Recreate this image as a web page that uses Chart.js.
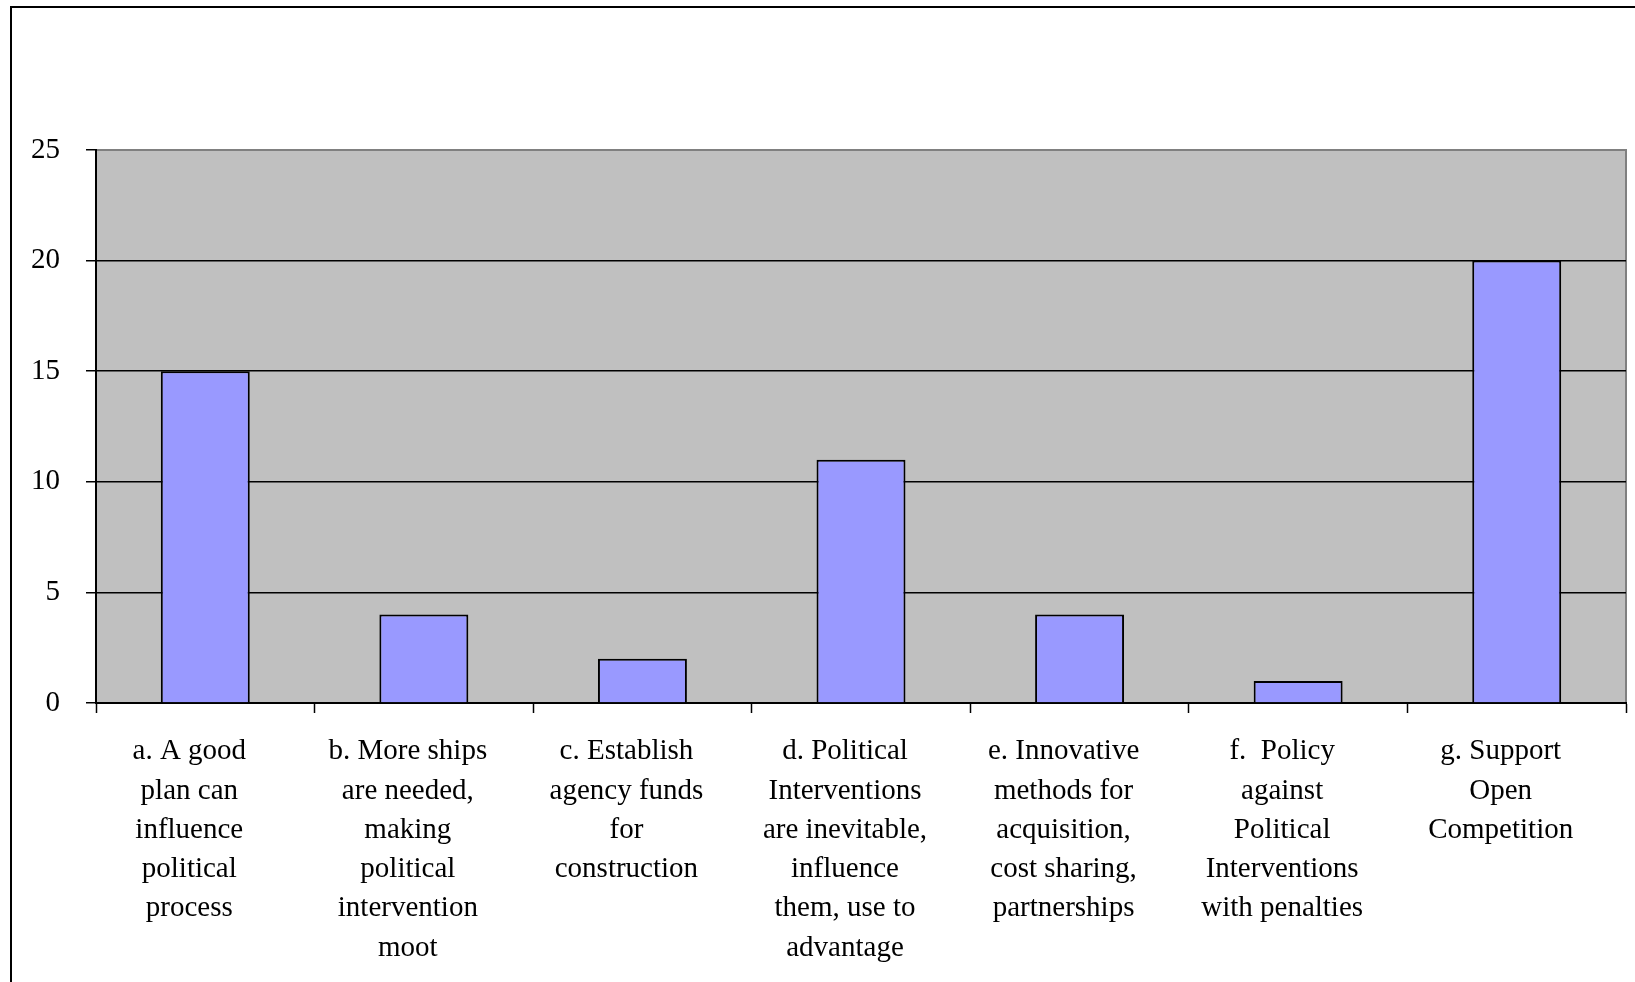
<!DOCTYPE html>
<html>
<head>
<meta charset="utf-8">
<title>Survey responses</title>
<script src="https://cdn.jsdelivr.net/npm/chart.js@4.4.0/dist/chart.umd.min.js"></script>
<style>
  html, body { margin: 0; padding: 0; background: #fff; overflow: hidden; }
  #wrap { position: relative; width: 1635px; height: 982px; }
  #frame { position: absolute; left: 10px; top: 6px; width: 1700px; height: 1100px; border: 2px solid #000; }
  #surveyChart { position: absolute; left: 0; top: 0; }
</style>
</head>
<body>
<div id="wrap">
  <div id="frame"></div>
  <canvas id="surveyChart" width="1635" height="982"></canvas>
</div>
<script>
// category labels, already broken into lines
var categories = [
  ['a. A good', 'plan can', 'influence', 'political', 'process'],
  ['b. More ships', 'are needed,', 'making', 'political', 'intervention', 'moot'],
  ['c. Establish', 'agency funds', 'for', 'construction'],
  ['d. Political', 'Interventions', 'are inevitable,', 'influence', 'them, use to', 'advantage'],
  ['e. Innovative', 'methods for', 'acquisition,', 'cost sharing,', 'partnerships'],
  ['f.  Policy', 'against', 'Political', 'Interventions', 'with penalties'],
  ['g. Support', 'Open', 'Competition']
];
var responses = [15, 4, 2, 11, 4, 1, 20];
var yTicks = [0, 5, 10, 15, 20, 25];

var serif = "'Liberation Serif', 'Times New Roman', serif";

// grey plot area with a grey frame on top and right
var plotBackground = {
  id: 'plotBackground',
  beforeDraw: function (chart) {
    var a = chart.chartArea;
    var ctx = chart.ctx;
    ctx.save();
    ctx.fillStyle = '#c0c0c0';
    ctx.fillRect(a.left, a.top, a.right - a.left, a.bottom - a.top);
    ctx.strokeStyle = '#808080';
    ctx.lineWidth = 2;
    ctx.beginPath();
    ctx.moveTo(a.left, a.top);
    ctx.lineTo(a.right, a.top);
    ctx.lineTo(a.right, a.bottom);
    ctx.stroke();
    ctx.restore();
  }
};

var chartData = {
  labels: categories,
  datasets: [{
    data: responses,
    backgroundColor: '#9999ff',
    borderColor: '#000000',
    borderWidth: 2,
    barPercentage: 1,
    categoryPercentage: 0.407
  }]
};

var chartConfig = {
  type: 'bar',
  data: chartData,
  plugins: [plotBackground],
  options: {
    responsive: false,
    animation: false,
    layout: { padding: { left: 0, top: 150, right: 9, bottom: 0 } },
    plugins: {
      legend: { display: false },
      tooltip: { enabled: false }
    },
    scales: {
      x: {
        afterFit: function (scale) { scale.height = 279; },
        grid: {
          offset: true,
          drawOnChartArea: false,
          drawTicks: true,
          tickLength: 10,
          tickColor: '#000',
          tickWidth: 1.5
        },
        border: { color: '#000', width: 2 },
        ticks: {
          color: '#000',
          font: { family: serif, size: 29, lineHeight: 1.355 },
          padding: 19,
          labelOffset: -16,
          maxRotation: 0,
          autoSkip: false
        }
      },
      y: {
        min: yTicks[0],
        max: yTicks[yTicks.length - 1],
        afterFit: function (scale) { scale.width = 96; },
        afterBuildTicks: function (scale) {
          scale.ticks = yTicks.map(function (v) { return { value: v }; });
        },
        grid: {
          color: function (c) { return c.tick && c.tick.value === 25 ? '#808080' : '#000'; },
          lineWidth: 1.5,
          tickLength: 10,
          tickColor: '#000',
          tickWidth: 1.5
        },
        border: { color: '#000', width: 2 },
        ticks: {
          color: '#000',
          font: { family: serif, size: 29 },
          padding: 26
        }
      }
    }
  }
};

var surveyChart = new Chart(document.getElementById('surveyChart'), chartConfig);
</script>
</body>
</html>
